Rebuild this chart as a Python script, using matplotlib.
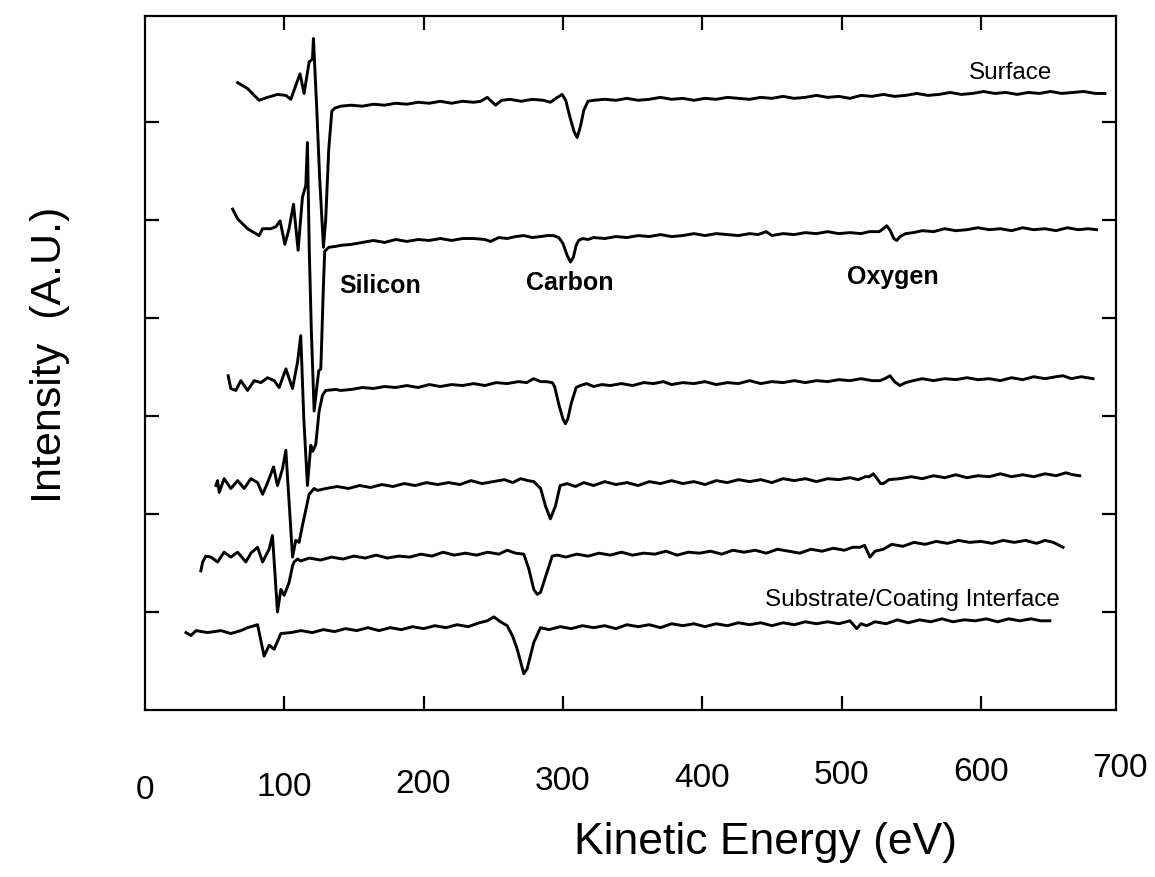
import matplotlib
matplotlib.use('Agg')
import matplotlib.pyplot as plt
from matplotlib.transforms import blended_transform_factory

# Auger depth profile, dN/dE spectra (energy eV, intensity A.U.)
surface = [(66.5, 6.40), (73.6, 6.34), (81.9, 6.22), (88.0, 6.25), (95.1, 6.28), (101.1, 6.27),
           (104.7, 6.23), (108.2, 6.37), (111.3, 6.49), (114.2, 6.29), (117.8, 6.61), (120.2, 6.64),
           (120.9, 6.85), (123.3, 6.13), (125.4, 5.42), (128.1, 4.72), (129.7, 5.00), (131.9, 5.72),
           (134.1, 6.11), (136.2, 6.14), (140.5, 6.16),
           (148, 6.17), (156, 6.16), (164, 6.18), (172, 6.17), (180, 6.19), (188, 6.18), (196, 6.20),
           (204, 6.19), (212, 6.21), (220, 6.19), (228, 6.21), (236, 6.20), (241, 6.21), (245.7, 6.25),
           (251.6, 6.17), (256, 6.22), (262, 6.23), (270, 6.21), (278, 6.23), (286, 6.22),
           (291, 6.20), (295, 6.24), (299.4, 6.28), (302, 6.22), (305, 6.05), (308, 5.90), (310.2, 5.84),
           (312.5, 5.95), (315, 6.12), (318, 6.21), (322, 6.22),
           (330, 6.23), (338, 6.22), (346, 6.24), (354, 6.22), (362, 6.23), (370, 6.25), (378, 6.23),
           (386, 6.24), (394, 6.22), (402, 6.24), (410, 6.23), (418, 6.25), (426, 6.24), (434, 6.23),
           (442, 6.25), (450, 6.24), (458, 6.26), (466, 6.24), (474, 6.25), (482, 6.27), (490, 6.25),
           (498, 6.26), (506, 6.24), (514, 6.27), (522, 6.26), (530, 6.28), (538, 6.26), (546, 6.27),
           (554, 6.29), (562, 6.27), (570, 6.28), (578, 6.30), (586, 6.28), (594, 6.29), (602, 6.31),
           (610, 6.29), (618, 6.30), (626, 6.28), (634, 6.30), (642, 6.29), (650, 6.31), (658, 6.29),
           (666, 6.30), (674, 6.31), (682, 6.29), (689, 6.29)]

layer2 = [(62.9, 5.11), (66.5, 5.01), (73.6, 4.91), (81.9, 4.84), (84.4, 4.91), (90.3, 4.91),
          (93.9, 4.93), (97.0, 4.99), (100.4, 4.75), (103.4, 4.91), (106.6, 5.16), (109.9, 4.69),
          (113.0, 5.23), (115.4, 5.35), (116.6, 5.79), (117.9, 4.70), (119.4, 3.87), (121.4, 3.05),
          (123.3, 3.29), (124.7, 3.46), (126.2, 3.48), (126.9, 3.79), (128.0, 4.30), (129.0, 4.68),
          (131.9, 4.72), (136.9, 4.73), (140.5, 4.74),
          (148, 4.75), (156, 4.77), (164, 4.79), (172, 4.77), (180, 4.80), (188, 4.78), (196, 4.80),
          (204, 4.79), (212, 4.81), (220, 4.79), (228, 4.81), (236, 4.81), (244, 4.80), (248, 4.78),
          (254, 4.82), (260, 4.81), (266, 4.83), (272, 4.84), (278, 4.82), (284, 4.83), (289, 4.84),
          (293, 4.84), (297, 4.82), (300, 4.76), (303, 4.64), (305.4, 4.57), (307.5, 4.62), (309.5, 4.74),
          (311.3, 4.79), (314, 4.81), (318, 4.80), (322, 4.82),
          (330, 4.81), (338, 4.83), (346, 4.82), (354, 4.84), (362, 4.83), (370, 4.85), (378, 4.83),
          (386, 4.84), (394, 4.86), (402, 4.84), (410, 4.86), (418, 4.85), (426, 4.84), (434, 4.86),
          (440, 4.85), (446, 4.88), (450, 4.84), (458, 4.86), (466, 4.85), (474, 4.87), (482, 4.86),
          (490, 4.88), (498, 4.86), (506, 4.87), (514, 4.86), (520, 4.88),
          (527, 4.88), (530, 4.91), (532.4, 4.94), (535, 4.89), (537.5, 4.81), (539.6, 4.79), (542, 4.83),
          (546, 4.86), (551.5, 4.87),
          (558, 4.89), (566, 4.88), (574, 4.91), (582, 4.89), (590, 4.90), (598, 4.92), (606, 4.90),
          (614, 4.91), (622, 4.89), (630, 4.92), (638, 4.90), (646, 4.91), (654, 4.89), (662, 4.92),
          (670, 4.90), (677, 4.91), (683, 4.90)]

layer3 = [(59.7, 3.41), (61.6, 3.28), (65.2, 3.26), (68.8, 3.36), (73.6, 3.26), (78.4, 3.36),
          (83.2, 3.34), (88.0, 3.39), (92.7, 3.36), (96.3, 3.29), (101.1, 3.48), (105.9, 3.28),
          (109.5, 3.55), (111.8, 3.82), (114.0, 2.97), (116.6, 2.29), (119.0, 2.70), (120.4, 2.64),
          (122.6, 2.71), (124.9, 3.04), (127.4, 3.21), (129.7, 3.26), (136.9, 3.27), (140.5, 3.26),
          (148, 3.27), (156, 3.29), (164, 3.28), (172, 3.30), (180, 3.29), (188, 3.31), (196, 3.29),
          (204, 3.32), (212, 3.30), (220, 3.32), (228, 3.31), (236, 3.33), (244, 3.31), (252, 3.34),
          (260, 3.33), (268, 3.35), (274, 3.34), (279, 3.38), (284, 3.35),
          (288, 3.35), (292.3, 3.34), (294, 3.30), (297, 3.12), (300, 2.97), (301.8, 2.92), (303.5, 2.97),
          (306, 3.13), (309.5, 3.29), (312.5, 3.31),
          (317, 3.33), (322, 3.30), (328, 3.32), (334, 3.31), (342, 3.33), (350, 3.31), (358, 3.34),
          (365, 3.33), (372, 3.35), (378, 3.32), (386, 3.34), (394, 3.33), (402, 3.35), (410, 3.32),
          (418, 3.34), (426, 3.33), (434, 3.36), (442, 3.33), (450, 3.35), (458, 3.34), (466, 3.36),
          (474, 3.34), (482, 3.36), (490, 3.35), (498, 3.37), (506, 3.36), (514, 3.38), (522, 3.36),
          (527.6, 3.36), (531, 3.38), (534.8, 3.41), (538, 3.35), (541.9, 3.31), (546, 3.34), (551.5, 3.36),
          (558, 3.38), (566, 3.36), (574, 3.38), (582, 3.37), (590, 3.39), (598, 3.37), (606, 3.38),
          (614, 3.36), (622, 3.39), (630, 3.37), (638, 3.40), (646, 3.38), (654, 3.40), (659, 3.41),
          (665, 3.38), (672, 3.40), (680.5, 3.38)]

layer4 = [(50.9, 2.29), (52.1, 2.34), (53.3, 2.22), (56.8, 2.36), (61.6, 2.26), (66.5, 2.34),
          (71.2, 2.26), (76.0, 2.36), (80.8, 2.32), (84.4, 2.20), (88.0, 2.32), (92.3, 2.48),
          (95.1, 2.29), (98.7, 2.46), (101.1, 2.65), (105.9, 1.56), (108.2, 1.73), (110.6, 1.71),
          (113.0, 1.88), (117.8, 2.20), (121.4, 2.26), (123.8, 2.24),
          (130, 2.26), (138, 2.28), (146, 2.26), (154, 2.29), (162, 2.27), (170, 2.30), (178, 2.28),
          (186, 2.31), (194, 2.29), (202, 2.32), (210, 2.30), (218, 2.32), (226, 2.30), (234, 2.34),
          (242, 2.31), (250, 2.33), (258, 2.35), (264, 2.32), (269.5, 2.36), (275, 2.34), (279, 2.33),
          (284, 2.26), (287.5, 2.08), (291, 1.95), (294.6, 2.08), (298, 2.29), (303, 2.31),
          (309, 2.28), (315, 2.32), (322, 2.29), (330, 2.33), (338, 2.30), (346, 2.32), (354, 2.29),
          (362, 2.33), (370, 2.31), (378, 2.34), (386, 2.31), (394, 2.33), (402, 2.30), (410, 2.34),
          (418, 2.32), (426, 2.35), (434, 2.33), (442, 2.35), (450, 2.32), (458, 2.36), (466, 2.34),
          (474, 2.36), (482, 2.33), (490, 2.36), (498, 2.35), (506, 2.37), (512, 2.35), (517, 2.38),
          (520, 2.38), (522.8, 2.41), (525, 2.37), (528, 2.31), (530, 2.31), (534, 2.35),
          (542, 2.36), (550, 2.38), (558, 2.36), (566, 2.39), (574, 2.37), (582, 2.40), (590, 2.37),
          (598, 2.39), (606, 2.38), (614, 2.41), (622, 2.38), (630, 2.40), (638, 2.38), (646, 2.41),
          (654, 2.39), (661, 2.42), (666, 2.40), (671, 2.39)]

layer5 = [(40.1, 1.42), (41.4, 1.51), (43.7, 1.57), (47.3, 1.56), (52.1, 1.51), (56.8, 1.61),
          (61.6, 1.56), (66.5, 1.61), (72.4, 1.51), (76.0, 1.60), (80.8, 1.66), (84.4, 1.51),
          (89.1, 1.64), (91.5, 1.78), (95.1, 1.00), (97.5, 1.23), (99.9, 1.17), (103.4, 1.30),
          (105.9, 1.47), (107.0, 1.51), (109.5, 1.54), (111.8, 1.52),
          (118, 1.55), (126, 1.53), (134, 1.56), (142, 1.54), (150, 1.57), (158, 1.55), (166, 1.58),
          (174, 1.55), (182, 1.57), (190, 1.56), (198, 1.59), (206, 1.57), (214, 1.61), (222, 1.58),
          (230, 1.60), (238, 1.58), (246, 1.61), (254, 1.59), (260, 1.63), (266, 1.60), (271.9, 1.59),
          (275.5, 1.44), (279.1, 1.23), (281.5, 1.18), (283.9, 1.20), (288, 1.38), (292.3, 1.57), (296, 1.58),
          (302, 1.56), (310, 1.59), (318, 1.57), (326, 1.60), (334, 1.58), (342, 1.61), (350, 1.58),
          (358, 1.60), (366, 1.59), (374, 1.62), (382, 1.58), (390, 1.61), (398, 1.60), (406, 1.62),
          (414, 1.59), (422, 1.63), (430, 1.61), (438, 1.63), (446, 1.60), (454, 1.64), (462, 1.62),
          (470, 1.60), (478, 1.64), (486, 1.62), (494, 1.65), (502, 1.63), (508, 1.66), (513.3, 1.66),
          (516.5, 1.68), (520.4, 1.56), (524, 1.62), (530, 1.64),
          (536, 1.69), (544, 1.67), (552, 1.71), (560, 1.69), (568, 1.72), (576, 1.70), (584, 1.73),
          (592, 1.71), (600, 1.72), (608, 1.70), (616, 1.73), (624, 1.71), (632, 1.73), (640, 1.70),
          (646, 1.73), (652, 1.71), (659, 1.66)]

interface = [(29.4, 0.79), (33.0, 0.76), (36.6, 0.81), (44.9, 0.79), (54.5, 0.81), (61.6, 0.78),
             (68.8, 0.81), (73.6, 0.84), (80.8, 0.87), (85.5, 0.55), (89.1, 0.66), (92.7, 0.62),
             (97.5, 0.78), (104.7, 0.79),
             (112, 0.81), (120, 0.79), (128, 0.82), (136, 0.80), (144, 0.83), (152, 0.81), (160, 0.84),
             (168, 0.81), (176, 0.84), (184, 0.82), (192, 0.85), (200, 0.83), (208, 0.86), (216, 0.84),
             (224, 0.87), (232, 0.85), (240, 0.89), (245.7, 0.91), (250.4, 0.95), (255.2, 0.90),
             (260, 0.86), (264, 0.75), (267.2, 0.62), (271.9, 0.37), (274.3, 0.42), (279.1, 0.69),
             (283.9, 0.84),
             (290, 0.82), (298, 0.85), (306, 0.83), (314, 0.86), (322, 0.84), (330, 0.86), (338, 0.83),
             (346, 0.87), (354, 0.85), (362, 0.87), (370, 0.84), (378, 0.88), (386, 0.86), (394, 0.88),
             (402, 0.85), (410, 0.88), (418, 0.86), (426, 0.89), (434, 0.87), (442, 0.89), (450, 0.86),
             (458, 0.89), (466, 0.87), (474, 0.90), (482, 0.88), (490, 0.90), (498, 0.88), (506, 0.91),
             (510.9, 0.83), (514, 0.88), (518, 0.86),
             (524, 0.90), (532, 0.88), (540, 0.92), (548, 0.89), (556, 0.92), (564, 0.90), (572, 0.93),
             (580, 0.90), (588, 0.92), (596, 0.91), (604, 0.93), (612, 0.90), (620, 0.93), (628, 0.91),
             (636, 0.93), (643, 0.91), (649.5, 0.91)]

spectra = [surface, layer2, layer3, layer4, layer5, interface]

x_ticks = [100, 200, 300, 400, 500, 600]
x_labels = [0, 100, 200, 300, 400, 500, 600, 700]
y_ticks = [1, 2, 3, 4, 5, 6]

# peak labels: (text, energy, intensity, bold)
annotations = [('Silicon', 169, 4.34, True),
               ('Carbon', 305, 4.37, True),
               ('Oxygen', 537, 4.43, True),
               ('Surface', 621, 6.51, False),
               ('Substrate/Coating Interface', 551, 1.13, False)]

fig = plt.figure(figsize=(11.55, 8.78), dpi=100)
ax = fig.add_axes([145/1155, 1 - 711/878, 971/1155, 694/878])

for spec in spectra:
    ev, inten = zip(*spec)
    ax.plot(ev, inten, color='black', lw=2.1, solid_joinstyle='round')

ax.set_xlim(0, 697)
ax.set_ylim(0, 7.08)

for s in ax.spines.values():
    s.set_linewidth(1.6)

ax.set_xticks(x_ticks)
ax.set_yticks(y_ticks)
ax.tick_params(direction='in', length=10, width=1.6, top=True, right=True,
               labelbottom=False, labelleft=False)

# tick numbers sit well below the frame (and drift a bit, as in the scan)
trans = blended_transform_factory(ax.transData, ax.transAxes)
for i, v in enumerate(x_labels):
    ax.text(v, -0.115 + 0.0045*i, str(v), transform=trans, ha='center', va='center',
            fontsize=24, family=['Liberation Sans Narrow', 'Liberation Sans'], clip_on=False)

for txt, xv, yv, bold in annotations:
    ax.text(xv, yv, txt, ha='center', va='center', fontsize=18 if bold else 17.5,
            fontweight='bold' if bold else 'normal', family='Liberation Sans')

fig.text(766/1155, 1 - 843/878, 'Kinetic Energy (eV)', ha='center', va='center',
         fontsize=32, family='Liberation Sans')
fig.text(50/1155, 1 - 355/878, 'Intensity  (A.U.)', ha='center', va='center',
         rotation=90, fontsize=31, family='Liberation Sans')

fig.savefig('out.png', dpi=100)
